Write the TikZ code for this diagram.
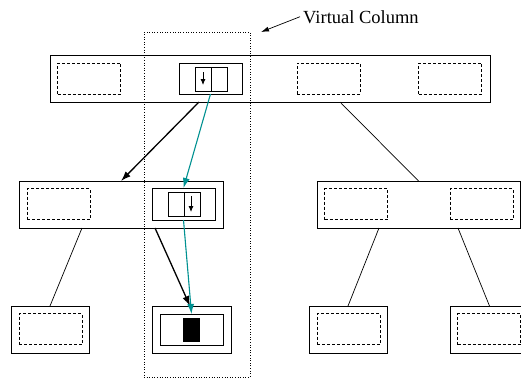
\documentclass[tikz,border=0pt]{standalone}
\usepackage{fontspec}
\setmainfont{Liberation Serif}
\usepackage{xcolor}
\usepackage{tikz}
\definecolor{vteal}{RGB}{0,145,145}
\tikzstyle{rowbox} = [draw, line width=0.8pt, inner sep=0pt, outer sep=0pt, minimum height=47pt]
\tikzstyle{slot} = [draw, dash pattern=on 3pt off 2pt, line width=0.7pt, inner sep=0pt, outer sep=0pt, minimum width=63pt, minimum height=31pt]
\tikzstyle{cell} = [draw, line width=0.8pt, inner sep=0pt, outer sep=0pt]
\tikzstyle{ptr} = [draw, line width=1.3pt, -{Latex[length=10pt,width=7pt]}]
\tikzstyle{vptr} = [draw=vteal, line width=1.1pt, -{Latex[length=10pt,width=7pt]}, vteal]
\tikzstyle{b} = [draw, line width=0.7pt, -]
\usetikzlibrary{arrows.meta}

\begin{document}
\begin{tikzpicture}[x=1pt, y=-1pt]
  \useasboundingbox (0,0) rectangle (521,380);

  % Column
  \node[draw, dotted, line width=0.6pt, inner sep=0pt, outer sep=0pt,
        minimum width=106pt, minimum height=345pt] (vcol) at (197,204.5) {};
  \node[anchor=base west, inner sep=3pt, font=\fontsize{18.5}{22}\selectfont] (vlabel) at (300,23) {Virtual Column};

  % Nodes: root
  \node[rowbox, minimum width=440pt] (top) at (270,78.5) {};
  \node[slot] (t1) at (89,78.5) {};
  \node[cell, minimum width=63pt, minimum height=31pt] (ts) at (210.5,78.5) {};
  \node[cell, minimum width=32pt, minimum height=24pt] (tsi) at (211,79) {};
  \node[slot] (t3) at (328.5,78.5) {};
  \node[slot] (t4) at (450,78.5) {};

  % Nodes: middle row
  \node[rowbox, minimum width=204pt] (ml) at (121,204.5) {};
  \node[slot] (ml1) at (58.5,204) {};
  \node[cell, minimum width=63pt, minimum height=32pt] (ms) at (183.5,204) {};
  \node[cell, minimum width=32pt, minimum height=24pt] (msi) at (184,204) {};

  \node[rowbox, minimum width=203pt] (mr) at (418.5,204.5) {};
  \node[slot] (mr1) at (356,204) {};
  \node[slot] (mr2) at (481.5,204) {};

  % Nodes: leaves
  \node[rowbox, minimum width=78pt] (bl) at (50,329.5) {};
  \node[slot] (bl1) at (50.5,329) {};
  \node[rowbox, minimum width=79pt] (bs) at (191.5,329.5) {};
  \node[cell, minimum width=63pt, minimum height=31pt] (bsi) at (191.5,329.5) {};
  \node[fill=black, inner sep=0pt, minimum width=17pt, minimum height=24pt] (val) at (191.5,330) {};
  \node[rowbox, minimum width=78pt] (br1) at (348,329.5) {};
  \node[slot] (br11) at (348.5,329) {};
  \node[rowbox, minimum width=79pt] (br2) at (489.5,329.5) {};
  \node[slot] (br21) at (489,329) {};

  % Cell dividers and down pointers
  \draw[line width=0.8pt] (tsi.north) -- (tsi.south);
  \draw[line width=0.8pt] (msi.north) -- (msi.south);
  \draw[line width=0.8pt, -{Latex[length=6pt,width=5pt]}] ([shift={(-8,5)}]tsi.north) -- ([shift={(-8,-6)}]tsi.south);
  \draw[line width=0.8pt, -{Latex[length=6pt,width=5pt]}] ([shift={(7,4)}]msi.north) -- ([shift={(7,-4)}]msi.south);

  % Edges
  \draw[b] ([xshift=70pt]top.south) -- (mr.north);
  \draw[b] ([xshift=-39pt]ml.south) -- (bl.north);
  \draw[b] ([xshift=-39.5pt]mr.south) -- (br1.north);
  \draw[b] ([xshift=39.5pt]mr.south) -- (br2.north);

  % Arrows
  \draw[ptr] ([xshift=-71pt]top.south) -- (ml.north);
  \draw[ptr] ([xshift=34pt]ml.south) -- ([xshift=-1.5pt]bs.north);
  \draw[vptr] (ts.south) -- (ms.north);
  \draw[vptr] (ms.south) -- (bsi.north);
  \draw[line width=0.7pt, -{Latex[length=8pt,width=5pt]}] (vlabel.west) -- ([shift={(11,0)}]vcol.north east);
\end{tikzpicture}
\end{document}
